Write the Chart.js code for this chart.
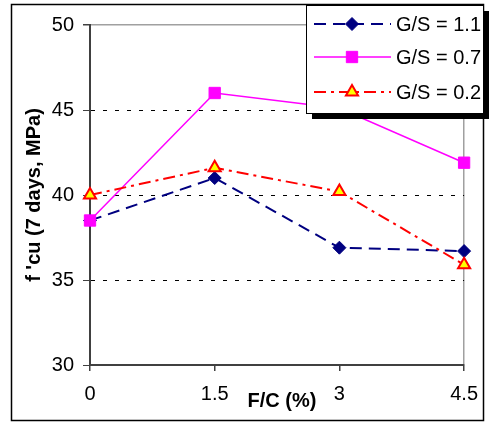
<!DOCTYPE html>
<html>
<head>
<meta charset="utf-8">
<script src="https://cdn.jsdelivr.net/npm/chart.js@4"></script>
<style>
    html, body { margin: 0; padding: 0; background: #fff; }
    #wrap { position: relative; width: 489px; height: 423px; }
</style>
</head>
<body>
<div id="wrap"><canvas id="chart" width="489" height="423"></canvas></div>
<script>
// F/C (%) on the x axis
const fcValues = [0, 1.5, 3, 4.5];
const xTicks = [0, 1.5, 3, 4.5];
const yTicks = [30, 35, 40, 45, 50];

// f'cu at 7 days (MPa)
const gs11 = [38.5, 41.0, 36.9, 36.7];
const gs07 = [38.5, 46.0, 45.1, 41.9];
const gs02 = [40.0, 41.6, 40.2, 35.9];

const labels = ['G/S = 1.1', 'G/S = 0.7', 'G/S = 0.2'];
const xTitle = 'F/C (%)';
const yTitle = "f 'cu (7 days, MPa)";

const FONT = '"Liberation Sans", Arial, sans-serif';

function pts(ys) {
    return fcValues.map((x, i) => ({ x: x, y: ys[i] }));
}

// outer frame, axis titles and the legend box with its drop shadow
const framePlugin = {
    id: 'frame',
    beforeDraw(chart) {
        const ctx = chart.ctx;
        ctx.save();
        ctx.fillStyle = '#fff';
        ctx.fillRect(0, 0, chart.width, chart.height);
        ctx.strokeStyle = '#000';
        ctx.lineWidth = 1.5;
        ctx.strokeRect(11.5, 4.5, 472, 416);
        ctx.restore();
    },
    afterDraw(chart) {
        const ctx = chart.ctx;
        const area = chart.chartArea;
        ctx.save();

        // axis titles
        ctx.fillStyle = '#000';
        ctx.font = 'bold 20px ' + FONT;
        ctx.textAlign = 'center';
        ctx.textBaseline = 'alphabetic';
        ctx.fillText(xTitle, 282, 407);
        ctx.save();
        ctx.translate(40, (area.top + area.bottom) / 2);
        ctx.rotate(-Math.PI / 2);
        ctx.fillText(yTitle, 0, 0);
        ctx.restore();

        // legend
        const bx = 306, by = 5, bw = 177, bh = 108;
        ctx.fillStyle = '#000';
        ctx.fillRect(bx + 6, by + 6, bw, bh);
        ctx.fillStyle = '#fff';
        ctx.fillRect(bx, by, bw, bh);
        ctx.strokeStyle = '#000';
        ctx.lineWidth = 1;
        ctx.strokeRect(bx + 0.5, by + 0.5, bw, bh);

        const rows = [24, 57, 92];
        chart.data.datasets.forEach((ds, i) => {
            const y = rows[i];
            ctx.save();
            ctx.strokeStyle = ds.borderColor;
            ctx.lineWidth = ds.borderWidth;
            ctx.setLineDash(ds.borderDash || []);
            ctx.beginPath();
            ctx.moveTo(314, y);
            ctx.lineTo(391, y);
            ctx.stroke();
            ctx.restore();

            ctx.save();
            ctx.fillStyle = ds.pointBackgroundColor;
            ctx.strokeStyle = ds.pointBorderColor;
            ctx.lineWidth = ds.pointBorderWidth;
            Chart.helpers.drawPoint(ctx, {
                pointStyle: ds.pointStyle,
                radius: ds.pointRadius,
                rotation: 0,
                borderWidth: ds.pointBorderWidth
            }, 352, y);
            ctx.restore();

            ctx.fillStyle = '#000';
            ctx.font = '20px ' + FONT;
            ctx.textAlign = 'left';
            ctx.textBaseline = 'middle';
            ctx.fillText(ds.label, 396, y + 1);
        });
        ctx.restore();
    }
};

new Chart(document.getElementById('chart'), {
    type: 'line',
    data: {
        datasets: [
            {
                label: labels[0],
                data: pts(gs11),
                order: 2,
                borderColor: '#000080',
                backgroundColor: '#000080',
                borderWidth: 2,
                borderDash: [12, 7],
                pointStyle: 'rectRot',
                pointRadius: 6.5,
                pointBorderWidth: 1,
                pointBackgroundColor: '#000080',
                pointBorderColor: '#000080',
                clip: false,
                tension: 0
            },
            {
                label: labels[1],
                data: pts(gs07),
                order: 1,
                borderColor: '#ff00ff',
                backgroundColor: '#ff00ff',
                borderWidth: 1.5,
                pointStyle: 'rect',
                pointRadius: 8,
                pointBorderWidth: 1,
                pointBackgroundColor: '#ff00ff',
                pointBorderColor: '#ff00ff',
                clip: false,
                tension: 0
            },
            {
                label: labels[2],
                data: pts(gs02),
                order: 0,
                borderColor: '#ff0000',
                backgroundColor: '#ffff00',
                borderWidth: 2,
                borderDash: [12, 5, 3, 5],
                pointStyle: 'triangle',
                pointRadius: 7,
                pointBorderWidth: 2,
                pointBackgroundColor: '#ffff00',
                pointBorderColor: '#ff0000',
                clip: false,
                tension: 0
            }
        ]
    },
    options: {
        responsive: false,
        animation: false,
        layout: { padding: { left: 0, right: 22, top: 25, bottom: 0 } },
        plugins: {
            legend: { display: false },
            tooltip: { enabled: false }
        },
        scales: {
            x: {
                type: 'linear',
                min: 0,
                max: 4.5,
                afterBuildTicks: (scale) => { scale.ticks = xTicks.map(v => ({ value: v })); },
                afterFit: (scale) => { scale.height = 58; },
                ticks: {
                    color: '#000',
                    font: { family: FONT, size: 20 },
                    padding: 11,
                    maxRotation: 0,
                    callback: (v) => String(v)
                },
                grid: {
                    drawOnChartArea: true,
                    color: (c) => (c.tick && c.tick.value === 4.5 ? '#a0a0a0' : 'rgba(0,0,0,0)'),
                    lineWidth: 1.5,
                    tickColor: '#404040',
                    tickLength: 6
                },
                border: { color: '#404040', width: 2 }
            },
            y: {
                min: 30,
                max: 50,
                afterBuildTicks: (scale) => { scale.ticks = yTicks.map(v => ({ value: v })); },
                afterFit: (scale) => { scale.width = 90; },
                ticks: {
                    color: '#000',
                    font: { family: FONT, size: 20 },
                    padding: 9
                },
                grid: {
                    color: (c) => (c.tick && c.tick.value === 50 ? '#a0a0a0' : '#000'),
                    lineWidth: (c) => (c.tick && c.tick.value === 50 ? 1.5 : 1),
                    tickColor: '#404040',
                    tickLength: 7
                },
                border: {
                    color: '#404040',
                    width: 2,
                    dash: (c) => (c.tick && c.tick.value !== 50 && c.tick.value !== 30 ? [4, 8] : [])
                }
            }
        }
    },
    plugins: [framePlugin]
});
</script>
</body>
</html>
